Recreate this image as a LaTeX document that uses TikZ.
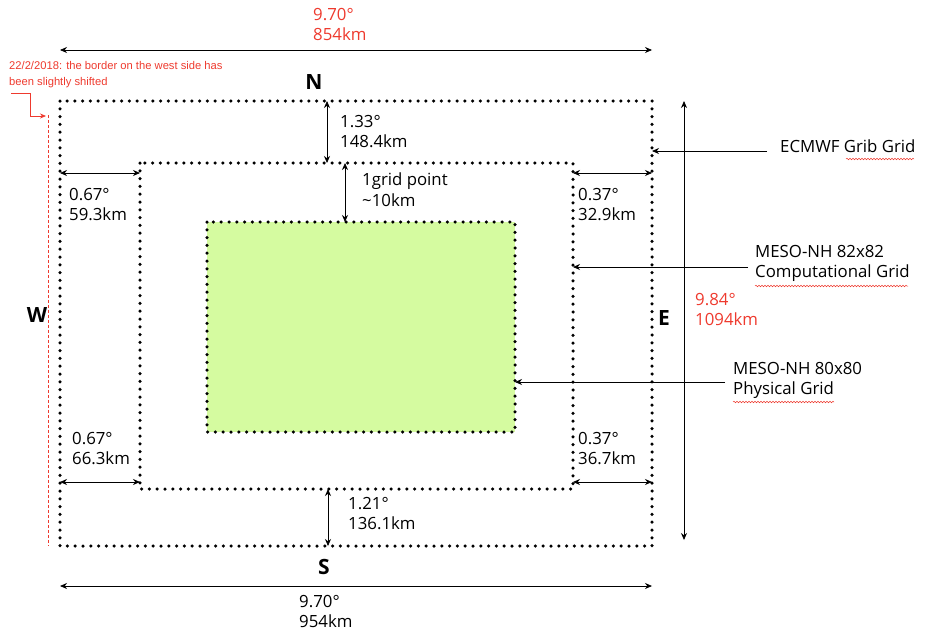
\documentclass[tikz,border=0pt]{standalone}
\usepackage{fontspec}
\setmainfont{Open Sans}
\newfontfamily\redfont{Liberation Sans}
\usetikzlibrary{arrows.meta,decorations.pathmorphing}
\definecolor{gridgreen}{HTML}{D5FBA0}
\definecolor{notered}{HTML}{EE3A2E}
\tikzset{
  dotbox/.style={draw, line width=3.5pt, line cap=round, dash pattern=on 0pt off 7.8pt},
  dimarrow/.style={{Stealth[length=7pt,width=6pt]}-{Stealth[length=7pt,width=6pt]}, line width=0.8pt},
  ptrarrow/.style={-{Stealth[length=7pt,width=6pt]}, line width=0.8pt},
  lbl/.style={anchor=north west, align=left, inner sep=0pt, font=\fontsize{16.8}{20.5}\selectfont},
  redlbl/.style={lbl, text=notered},
  compass/.style={inner sep=0pt, font=\fontsize{21}{21}\selectfont\bfseries},
  squiggle/.style={draw=notered, line width=0.5pt, decorate, decoration={snake, amplitude=0.8pt, segment length=3pt}}
}
\begin{document}
\begin{tikzpicture}[x=1pt,y=-1pt]
\useasboundingbox (0,0) rectangle (928,632);
% boxes
\coordinate (o1) at (60,101); \coordinate (o2) at (652,546);
\coordinate (m1) at (140,163); \coordinate (m2) at (573,489);
\coordinate (i1) at (207,222); \coordinate (i2) at (515,432);
\fill[gridgreen] (i1) rectangle (i2);
\path[dotbox] (o1) rectangle (o2);
\path[dotbox] (m1) rectangle (m2);
\path[dotbox] (i1) rectangle (i2);
% red west border
\draw[notered, line width=0.7pt, dash pattern=on 3pt off 2pt] (48,115) coordinate (r1) -- (48,546) coordinate (r2);
\draw[notered, line width=0.7pt, -{Stealth[length=6pt,width=5pt]}] (11,93) coordinate (n1) -- (30,93) -- (30,116) -- (46,116) coordinate (n2);
\node[lbl, text=notered, font=\redfont\fontsize{11.2}{16.5}\selectfont] (note) at (9,61) {22/2/2018: the border on the west side has\\been slightly shifted};
% top dimension
\coordinate (t1) at (60,50); \coordinate (t2) at (652,50);
\draw[dimarrow] (t1) -- (t2);
\node[redlbl] (toplbl) at (313,8) {9.70\textdegree\\854km};
% bottom dimension
\coordinate (b1) at (60,586); \coordinate (b2) at (652,586);
\draw[dimarrow] (b1) -- (b2);
\node[lbl] (botlbl) at (299,595) {9.70\textdegree\\954km};
% right vertical dimension
\coordinate (v1) at (684,101); \coordinate (v2) at (684,540);
\draw[dimarrow] (v1) -- (v2);
\node[redlbl] (rightlbl) at (695,293) {9.84\textdegree\\1094km};
% compass letters
\node[compass] (N) at (314,82) {N};
\node[compass] (S) at (324,567) {S};
\node[compass] (W) at (37,315) {W};
\node[compass] (E) at (664,318) {E};
% north gap
\coordinate (na) at (327,101); \coordinate (nb) at (327,163);
\draw[dimarrow] (na) -- (nb);
\node[lbl] (nlbl) at (340,115) {1.33\textdegree\\148.4km};
% grid point
\coordinate (ga) at (345,163); \coordinate (gb) at (345,222);
\draw[dimarrow] (ga) -- (gb);
\node[lbl] (glbl) at (362,173) {1grid point\\\char`~10km};
% south gap
\coordinate (sa) at (328,489); \coordinate (sb) at (328,546);
\draw[dimarrow] (sa) -- (sb);
\node[lbl] (slbl) at (348,497) {1.21\textdegree\\136.1km};
% west gaps
\coordinate (wa) at (60,173); \coordinate (wb) at (140,173);
\draw[dimarrow] (wa) -- (wb);
\node[lbl] (wtlbl) at (69,188) {0.67\textdegree\\59.3km};
\coordinate (wc) at (60,482); \coordinate (wd) at (140,482);
\draw[dimarrow] (wc) -- (wd);
\node[lbl] (wblbl) at (72,432) {0.67\textdegree\\66.3km};
% east gaps
\coordinate (ea) at (573,173); \coordinate (eb) at (652,173);
\draw[dimarrow] (ea) -- (eb);
\node[lbl] (etlbl) at (578,188) {0.37\textdegree\\32.9km};
\coordinate (ec) at (573,482); \coordinate (ed) at (652,482);
\draw[dimarrow] (ec) -- (ed);
\node[lbl] (eblbl) at (578,432) {0.37\textdegree\\36.7km};
% pointer labels
\node[lbl] (ecmwf) at (780,140) {ECMWF Grib Grid};
\coordinate (ep) at (767,151); \coordinate (eq) at (652,151);
\draw[ptrarrow] (ep) -- (eq);
\node[lbl] (meso82) at (755,245) {MESO-NH 82x82\\Computational Grid};
\coordinate (cp) at (748,267); \coordinate (cq) at (573,267);
\draw[ptrarrow] (cp) -- (cq);
\node[lbl] (meso80) at (733,362) {MESO-NH 80x80\\Physical Grid};
\coordinate (pp) at (725,382); \coordinate (pq) at (515,382);
\draw[ptrarrow] (pp) -- (pq);
% spell-check squiggles
\path[squiggle] (846,159) -- (914,159);
\path[squiggle] (755,286) -- (908,286);
\path[squiggle] (733,402) -- (834,402);
\end{tikzpicture}
\end{document}
